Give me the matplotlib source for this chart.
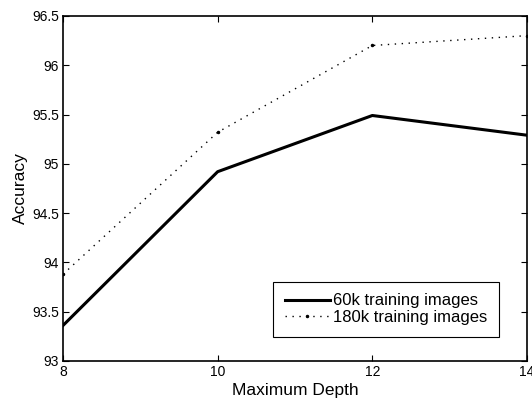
import matplotlib
matplotlib.use("Agg")
import matplotlib.pyplot as plt

plt.rcParams['font.family'] = ['Liberation Sans', 'DejaVu Sans']

depth = [8, 10, 12, 14]
acc_60k = [93.36, 94.92, 95.49, 95.29]
acc_180k = [93.88, 95.32, 96.20, 96.30]

fig = plt.figure(figsize=(5.32, 3.98), dpi=100)
ax = fig.add_axes([0.1184, 0.093, 0.8722, 0.867])

ax.plot(depth, acc_60k, color='black', linewidth=2.2, label='60k training images')
ax.plot(depth, acc_180k, color='black', linewidth=1.0, linestyle=(0, (1, 4)),
        marker='.', markersize=3, label='180k training images')

ax.set_xlim(8, 14)
ax.set_ylim(93, 96.5)
ax.set_xticks([8, 10, 12, 14])
ax.set_yticks([93, 93.5, 94, 94.5, 95, 95.5, 96, 96.5])
ax.set_yticklabels(['93', '93.5', '94', '94.5', '95', '95.5', '96', '96.5'])
ax.tick_params(direction='in', top=True, right=True, labelsize=10, length=4, width=0.8, pad=3)
for s in ax.spines.values():
    s.set_linewidth(1.2)

ax.set_xlabel('Maximum Depth', fontsize=12.5, labelpad=3)
ax.set_ylabel('Accuracy', fontsize=12.5, labelpad=3)

leg = ax.legend(loc='lower right', bbox_to_anchor=(0.94, 0.07), fontsize=12,
                fancybox=False, framealpha=1, edgecolor='black', borderpad=0.7,
                handlelength=2.7, handletextpad=0.2, labelspacing=0.1, borderaxespad=0)
leg.get_frame().set_linewidth(0.8)

fig.savefig('out.png', dpi=100)
